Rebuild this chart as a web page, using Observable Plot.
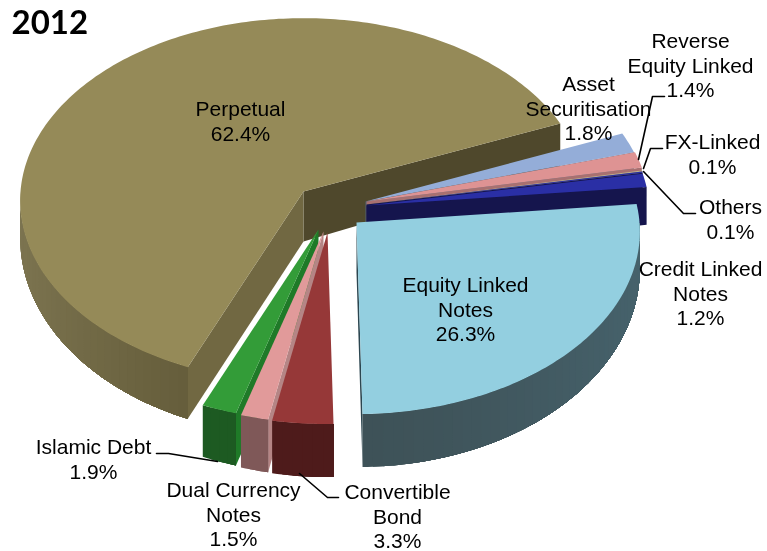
<!DOCTYPE html>
<html><head><meta charset="utf-8">
<script src="https://cdn.jsdelivr.net/npm/d3@7"></script>
<script src="https://cdn.jsdelivr.net/npm/@observablehq/plot@0.6"></script>
<style>html,body{margin:0;background:#fff}svg{display:block;filter:blur(0.4px)}</style>
</head><body><div id="chart"></div>
<script>
const categories = ["Perpetual","Asset Securitisation","Reverse Equity Linked","FX-Linked","Others","Credit Linked Notes","Equity Linked Notes","Convertible Bond","Dual Currency Notes","Islamic Debt"];
const shares = [62.4,1.8,1.4,0.1,0.1,1.2,26.3,3.3,1.5,1.9];
const labelTexts = ["Perpetual\n62.4%","Asset\nSecuritisation\n1.8%","Reverse\nEquity Linked\n1.4%","FX-Linked\n0.1%","Others\n0.1%","Credit Linked\nNotes\n1.2%","Equity Linked\nNotes\n26.3%","Convertible\nBond\n3.3%","Dual Currency\nNotes\n1.5%","Islamic Debt\n1.9%"];
const topColors = ["#958a58","#94add8","#de9393","#b9b38c","#2a2fa5","#2a2fa5","#93cfe0","#963838","#e19a9a","#339c38"];
const wallColors = ["#5f5735","#5a6f90","#8f5a5a","#6d6a50","#15154d","#15154d","#3e5258","#4e1b1b","#7f5858","#1d5a22"];
const wallLightColors = ["#7c7450","#5a6f90","#8f5a5a","#6d6a50","#15154d","#15154d","#46626c","#4e1b1b","#7f5858","#1d5a22"];
const faceColors = ["#716842","#4f6278","#a87070","#77735a","#15154d","#15154d","#2c4650","#b06060","#b58585","#1f7a28"];
const backFaceColors = ["#4f482c","#4f6278","#a87070","#77735a","#15154d","#15154d","#2c4650","#b06060","#b58585","#1f7a28"];
const explodeX = [0,62,63,63,63,63,53,24,20,15];
const explodeY = [0,10,10,13,13,14,31,41,40,38];
const labelX = [240,588,690,712,730,700,465,397,233,93];
const labelY = [120,107,64,153,218,292,308,515,513,458];
const leaders = [
  [[156,453],[168,453],[217,461]],
  [[299,473],[327,497],[338,497]],
  [[664,96],[652,96],[638,159]],
  [[662,148],[650,148],[643,168]],
  [[643,171],[683,213],[695,213]]
];

const cx = 303, cy = 191, rx = 283, ry = 182, persp = 0.05, startAngle = 22.4;
const apexDepth = 50, rimDepthSide = 36, rimDepthFront = 17;
const rad = d => d * Math.PI / 180;
const rimDepth = a => rimDepthSide + rimDepthFront * Math.abs(Math.sin(rad(a)));
function proj(a, r, i, down = 0) {
  const u = r * Math.cos(rad(a)), v = -r * Math.sin(rad(a));
  const s = 1 / (1 - persp * v);
  return {x: cx + rx * u * s + explodeX[i], y: cy + ry * v * s + explodeY[i] + down};
}
function arc(a0, a1, i, wall = false) {
  const n = Math.max(2, Math.ceil(Math.abs(a1 - a0)));
  return d3.range(n + 1).map(k => {
    const a = a0 + (a1 - a0) * k / n;
    return proj(a, 1, i, wall ? rimDepth(a) : 0);
  });
}
const total = d3.sum(shares);
const sweep = shares.map(s => s / total * 360);
let cursor = startAngle;
const slices = sweep.map((s, i) => {
  if (i === 0) return {i, a0: startAngle, a1: startAngle + s};
  const a1 = cursor;
  cursor -= s;
  return {i, a0: cursor, a1};
});
const polys = [];
function add(points, color, id) { points.forEach(p => polys.push({...p, color, id})); }
const order = [0,1,2,3,4,5,6,9,8,7];
order.forEach(i => {
  const {a0, a1} = slices[i];
  const c = proj(0, 0, i), cd = proj(0, 0, i, apexDepth);
  const face = (a, col, tag) => {
    add([c, proj(a, 1, i), proj(a, 1, i, rimDepth(a)), cd], col, `${i}-${tag}`);
  };
  if (Math.sin(rad(a0 - 90)) < 0) face(a0, backFaceColors[i], "a");
  if (Math.sin(rad(a1 + 90)) < 0) face(a1, faceColors[i], "b");
  // outer wall, front half of the rim only: overlapping strips so it can shade with the angle
  const shade = d3.interpolateRgb(wallColors[i], wallLightColors[i]);
  for (const [f0, f1] of [[-180, 0], [180, 360]]) {
    const l = Math.max(a0, f0), h = Math.min(a1, f1);
    if (h <= l) continue;
    const step = (h - l) / Math.max(1, Math.ceil((h - l) / 2));
    d3.range(l, h - 1e-6, step).forEach((s, k) => {
      const col = shade(Math.abs(Math.cos(rad(s + step / 2))) ** 1.5);
      add([...arc(s, h, i), ...arc(h, s, i, true)], col, `${i}-w${f0}-${k}`);
    });
  }
  add([c, ...arc(a0, a1, i)], topColors[i], `${i}-t`);
});
const leaderRows = leaders.flatMap((l, k) => l.map(([x, y]) => ({x, y, k})));
const labelRows = labelTexts.map((text, i) => ({text, x: labelX[i], y: labelY[i]}));

const chart = Plot.plot({
  width: 767, height: 551, margin: 0,
  x: {domain: [0, 767], range: [0, 767], axis: null},
  y: {domain: [0, 551], range: [0, 551], axis: null},
  color: {type: "identity"},
  marks: [
    Plot.line(polys, {x: "x", y: "y", z: "id", fill: "color", curve: "linear-closed", stroke: null}),
    Plot.line(leaderRows, {x: "x", y: "y", z: "k", stroke: "#000", strokeWidth: 1.6, curve: "linear"}),
    Plot.text(labelRows, {x: "x", y: "y", text: "text", fontSize: 21, lineHeight: 1.19, fill: "#000", fontFamily: "Liberation Sans"}),
    Plot.text(["2012"], {x: [11], y: [33], text: d => d, textAnchor: "start", lineAnchor: "bottom", fontSize: 33, fontWeight: 700, fontFamily: "Lato", fill: "#000"})
  ]
});
document.getElementById("chart").append(chart);
</script></body></html>
